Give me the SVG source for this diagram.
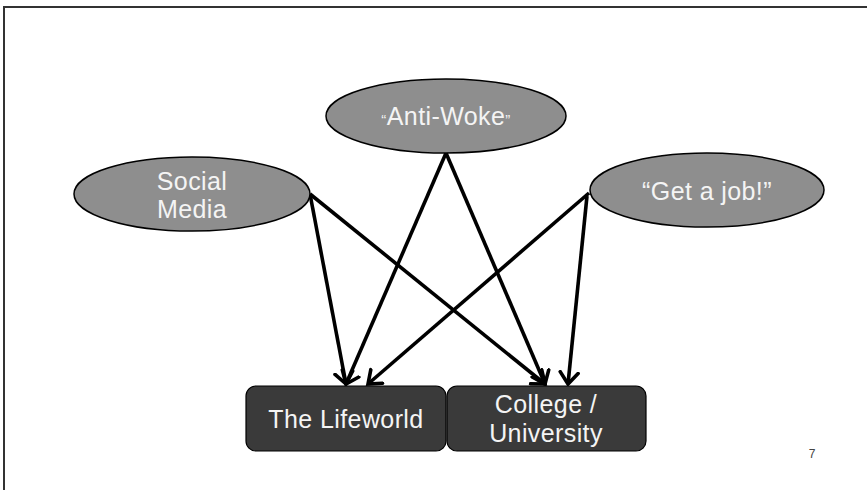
<svg xmlns="http://www.w3.org/2000/svg" width="867" height="490" viewBox="0 0 867 490">
<defs>
<style>
.oval{fill:#8e8e8e;stroke:#000;stroke-width:1.5}
.box{fill:#3a3a3a;stroke:#000;stroke-width:1.2}
.t{font-family:"Liberation Sans",Arial,sans-serif;fill:#f4f4f4;font-size:25px;text-anchor:middle;letter-spacing:0.4px}
.q{font-size:15px}
.edge{stroke:#000;stroke-width:3.6;fill:none;marker-end:url(#ah)}
</style>
<marker id="ah" viewBox="0 0 16 22" refX="13" refY="11" markerWidth="16" markerHeight="22" markerUnits="userSpaceOnUse" orient="auto">
<path d="M1.5,2 L13,11 L1.5,20" fill="none" stroke="#000" stroke-width="3.6" stroke-linecap="round" stroke-linejoin="miter"/>
</marker>
</defs>
<rect width="867" height="490" fill="#fff"/>
<rect x="4" y="7" width="900" height="600" fill="none" stroke="#333" stroke-width="2"/>
<g id="connectors">
<line class="edge" x1="310" y1="194" x2="346" y2="384"/>
<line class="edge" x1="310" y1="194" x2="545" y2="384"/>
<line class="edge" x1="446" y1="153" x2="346" y2="384"/>
<line class="edge" x1="446" y1="153" x2="545" y2="384"/>
<line class="edge" x1="589" y1="193" x2="368" y2="384"/>
<line class="edge" x1="587" y1="196" x2="568" y2="384"/>
</g>
<g id="anti-woke">
<ellipse class="oval" cx="446" cy="116" rx="120" ry="37"/>
<text class="t" x="446" y="125"><tspan class="q">“</tspan>Anti-Woke<tspan class="q">”</tspan></text>
</g>
<g id="social-media">
<ellipse class="oval" cx="192" cy="194" rx="118" ry="37"/>
<text class="t" x="192" y="190">Social</text>
<text class="t" x="192" y="218">Media</text>
</g>
<g id="get-a-job">
<ellipse class="oval" cx="707" cy="190" rx="117" ry="37"/>
<text class="t" x="707" y="200">“Get a job!”</text>
</g>
<g id="lifeworld">
<rect class="box" x="246" y="386" width="200" height="65" rx="10"/>
<text class="t" x="346" y="428">The Lifeworld</text>
</g>
<g id="college">
<rect class="box" x="447" y="386" width="199" height="65" rx="10"/>
<text class="t" x="546" y="413">College /</text>
<text class="t" x="546" y="442">University</text>
</g>
<text x="812" y="458" font-family="'Liberation Sans',Arial,sans-serif" font-size="12" fill="#444" text-anchor="middle">7</text>
</svg>
